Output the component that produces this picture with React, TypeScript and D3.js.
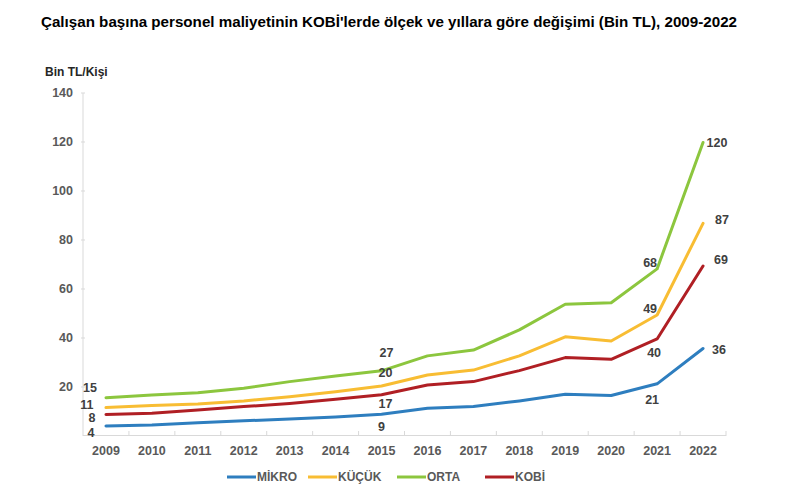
import React from "react";
import * as d3 from "d3";

const years = ["2009","2010","2011","2012","2013","2014","2015","2016","2017","2018","2019","2020","2021","2022"];
const mikro = [4.1, 4.5, 5.4, 6.2, 6.9, 7.8, 8.9, 11.3, 12.0, 14.3, 17.0, 16.5, 21.3, 35.7];
const kucuk = [11.6, 12.4, 13.1, 14.3, 16.0, 18.1, 20.4, 24.9, 26.9, 32.7, 40.5, 38.8, 49.4, 86.8];
const orta = [15.6, 16.7, 17.7, 19.5, 22.2, 24.5, 26.6, 32.7, 35.1, 43.3, 53.8, 54.4, 68.2, 119.8];
const kobi = [8.8, 9.3, 10.6, 12.0, 13.3, 15.0, 16.8, 20.8, 22.2, 26.7, 32.0, 31.3, 39.6, 69.4];
const yTicks = [20, 40, 60, 80, 100, 120, 140];

// labels: series index, year index, text
const labelTexts = [
  { s: 2, i: 0, t: "15" }, { s: 1, i: 0, t: "11" }, { s: 3, i: 0, t: "8" }, { s: 0, i: 0, t: "4" },
  { s: 2, i: 6, t: "27" }, { s: 1, i: 6, t: "20" }, { s: 3, i: 6, t: "17" }, { s: 0, i: 6, t: "9" },
  { s: 2, i: 12, t: "68" }, { s: 1, i: 12, t: "49" }, { s: 3, i: 12, t: "40" }, { s: 0, i: 12, t: "21" },
  { s: 2, i: 13, t: "120" }, { s: 1, i: 13, t: "87" }, { s: 3, i: 13, t: "69" }, { s: 0, i: 13, t: "36" },
];
// label offsets (styling) relative to point
const labelOffsets = [
  [-16, -10], [-19, -3], [-14, 3.5], [-15, 7],
  [5, -18], [4, -13], [4, 9], [0, 12.5],
  [-7, -6], [-7, -6], [-3, 14], [-5, 16],
  [14, 0], [19, -4], [18, -6], [16, 1],
];

const series = [
  { name: "MİKRO", values: mikro, color: "#2e7ebf" },
  { name: "KÜÇÜK", values: kucuk, color: "#f8bd33" },
  { name: "ORTA", values: orta, color: "#8cc63e" },
  { name: "KOBİ", values: kobi, color: "#b01f24" },
];
const drawOrder = [0, 3, 1, 2];
const legendX = [227, 308, 397, 485];

export default function App() {
  const W = 802, H = 490;
  const x0 = 83, x1 = 726, yTop = 93, yBot = 436;
  const x = d3.scaleBand<string>().domain(years).range([x0, x1]);
  const y = d3.scaleLinear().domain([0, 140]).range([yBot, yTop]);
  const cx = (i: number) => (x(years[i]) as number) + x.bandwidth() / 2;
  const line = d3.line<number>().x((_, i) => cx(i)).y((d) => y(d));
  const font = "'Liberation Sans', Arial, sans-serif";
  const tickColor = "#595959";

  return (
    <svg width={W} height={H} style={{ position: "absolute", left: 0, top: 0, background: "#fff" }} fontFamily={font}>
      <text x={41} y={27} fontSize={14.6} fontWeight="bold" fill="#000" textLength={696} lengthAdjust="spacingAndGlyphs">
        Çalışan başına personel maliyetinin KOBİ'lerde ölçek ve yıllara göre değişimi (Bin TL), 2009-2022
      </text>
      <text x={45} y={76} fontSize={12} fontWeight="bold" fill="#262626">Bin TL/Kişi</text>

      {/* y axis */}
      <line x1={x0} x2={x0} y1={yTop} y2={yBot} stroke="#d9d9d9" strokeWidth={1} />
      {yTicks.map((t) => (
        <g key={t}>
          <line x1={x0 - 2} x2={x0 + 2} y1={y(t)} y2={y(t)} stroke="#d9d9d9" />
          <text x={73} y={y(t)} dy="0.35em" textAnchor="end" fontSize={12.5} fontWeight="bold" fill={tickColor}>{t}</text>
        </g>
      ))}
      {/* x axis */}
      <line x1={x0} x2={x1} y1={yBot - 0.5} y2={yBot - 0.5} stroke="#d9d9d9" />
      {years.map((yr, i) => (
        <g key={yr}>
          <line x1={(x(yr) as number) + x.bandwidth()} x2={(x(yr) as number) + x.bandwidth()} y1={yBot - 5} y2={yBot} stroke="#d9d9d9" />
          <text x={cx(i)} y={451} dy="0.35em" textAnchor="middle" fontSize={12.5} fontWeight="bold" fill={tickColor}>{yr}</text>
        </g>
      ))}

      {drawOrder.map((si) => (
        <path key={si} d={line(series[si].values) || ""} fill="none" stroke={series[si].color} strokeWidth={3} strokeLinejoin="round" strokeLinecap="round" />
      ))}

      {labelTexts.map((l, k) => (
        <text key={k} x={cx(l.i) + labelOffsets[k][0]} y={y(series[l.s].values[l.i]) + labelOffsets[k][1]} dy="0.35em" textAnchor="middle" fontSize={12.5} fontWeight="bold" fill="#404040">{l.t}</text>
      ))}

      {series.map((s, k) => (
        <g key={s.name}>
          <line x1={legendX[k]} x2={legendX[k] + 29} y1={477} y2={477} stroke={s.color} strokeWidth={3} />
          <text x={legendX[k] + 30} y={477} dy="0.35em" fontSize={12} fontWeight="bold" fill={tickColor}>{s.name}</text>
        </g>
      ))}
    </svg>
  );
}
